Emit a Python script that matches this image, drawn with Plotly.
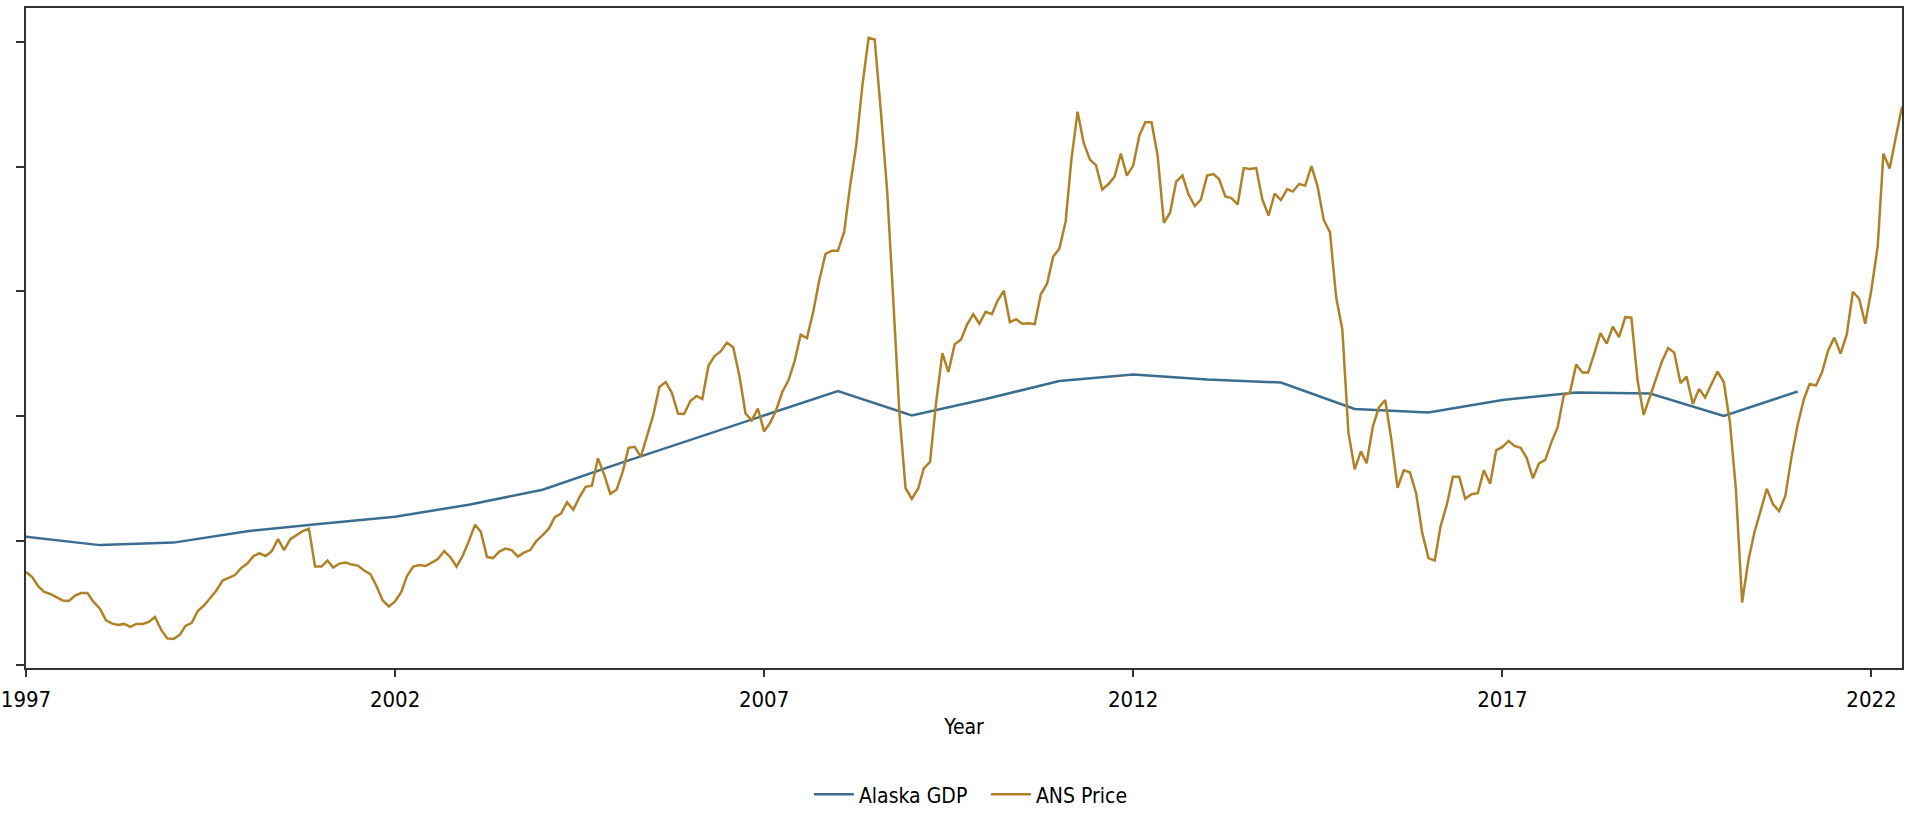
import pandas as pd
import plotly.graph_objects as go

# ---- data (chart units; y-axis carries no labels) ----
gdp_years = list(range(1997, 2022))
gdp_values = [25.8, 24.1, 24.6, 26.9, 28.4, 29.8, 32.2, 35.2, 40.3, 45.2, 50.1, 55.0,
              50.1, 53.4, 57.0, 58.3, 57.3, 56.7, 51.4, 50.7, 53.2, 54.7, 54.5, 50.0, 54.9]

price_start = "1997-01-01"
ans_price = [
    18.7, 17.7, 15.9, 14.7, 14.3, 13.7, 13.0, 12.9, 14.0, 14.5, 14.5, 12.7,   # 1997
    11.4, 9.0, 8.4, 8.1, 8.3, 7.7, 8.3, 8.3, 8.7, 9.7, 7.1, 5.4,             # 1998
    5.3, 6.1, 7.9, 8.5, 10.9, 12.0, 13.4, 15.0, 17.0, 17.5, 18.1, 19.5,      # 1999
    20.4, 21.9, 22.5, 21.9, 22.9, 25.3, 23.1, 25.3, 26.2, 26.9, 27.4, 19.8,  # 2000
    19.8, 21.0, 19.6, 20.4, 20.6, 20.2, 20.0, 19.0, 18.3, 15.9, 13.0, 11.8,  # 2001
    12.8, 14.7, 17.9, 19.8, 20.1, 19.9, 20.6, 21.3, 22.9, 21.7, 19.8, 21.9,  # 2002
    24.9, 28.2, 26.8, 21.7, 21.5, 22.8, 23.4, 23.1, 21.8, 22.6, 23.1, 24.9,  # 2003
    26.1, 27.4, 29.7, 30.4, 32.7, 31.2, 33.7, 35.8, 36.0, 41.5, 38.2, 34.4,  # 2004
    35.2, 38.9, 43.6, 43.8, 41.8, 46.1, 50.1, 55.8, 56.8, 54.7, 50.5, 50.4,  # 2005
    53.0, 54.0, 53.4, 60.1, 62.0, 63.0, 64.7, 63.8, 58.0, 50.5, 49.1, 51.5,  # 2006
    46.9, 48.7, 51.1, 54.8, 57.1, 61.0, 66.3, 65.6, 70.9, 77.2, 82.5, 83.1,  # 2007
    83.1, 86.9, 96.0, 104.3, 116.2, 125.8, 125.5, 110.9, 95.0, 73.3, 50.1, 35.5,  # 2008
    33.4, 35.4, 39.5, 40.8, 52.7, 62.6, 58.8, 64.4, 65.3, 68.3, 70.4, 68.5,  # 2009
    70.9, 70.4, 73.1, 75.1, 68.8, 69.4, 68.5, 68.6, 68.4, 74.4, 76.5, 81.9,  # 2010
    83.6, 89.0, 101.3, 111.0, 104.8, 101.4, 100.3, 95.4, 96.5, 98.0, 102.6, 98.2,  # 2011
    100.2, 106.3, 108.9, 108.9, 102.2, 88.7, 90.7, 97.0, 98.2, 94.4, 92.1, 93.4,  # 2012
    98.2, 98.5, 97.5, 94.0, 93.7, 92.4, 99.7, 99.5, 99.7, 93.4, 90.2, 94.6,  # 2013
    93.3, 95.5, 95.0, 96.5, 96.2, 100.1, 96.1, 89.3, 86.8, 73.9, 67.3, 46.7,  # 2014
    39.3, 42.9, 40.5, 47.9, 51.7, 53.2, 45.4, 35.6, 39.1, 38.7, 34.5, 26.6,  # 2015
    21.5, 21.0, 27.9, 32.2, 37.8, 37.8, 33.4, 34.3, 34.5, 39.1, 36.4, 43.1,  # 2016
    43.8, 45.0, 44.0, 43.6, 41.6, 37.5, 40.5, 41.2, 44.8, 47.7, 54.2, 54.7,  # 2017
    60.3, 58.7, 58.7, 62.6, 66.6, 64.5, 67.9, 65.8, 69.8, 69.7, 57.0, 50.2,  # 2018
    53.8, 57.3, 60.9, 63.6, 62.7, 56.6, 57.9, 52.4, 55.4, 53.7, 56.5, 58.9,  # 2019
    56.8, 48.6, 35.4, 12.6, 20.8, 26.7, 30.9, 35.4, 32.3, 30.9, 34.0, 41.7,  # 2020
    48.3, 53.4, 56.4, 56.1, 58.7, 63.2, 65.7, 62.5, 66.4, 74.9, 73.5, 68.5,  # 2021
    75.4, 84.1, 102.6, 99.6, 105.8, 112.0,                                    # 2022
]

tick_years = [1997, 2002, 2007, 2012, 2017, 2022]
series_names = ["Alaska GDP", "ANS Price"]
colors = ["#3A6E91", "#B08228"]

gdp_dates = pd.to_datetime([f"{y}-01-01" for y in gdp_years])
price_dates = pd.date_range(price_start, periods=len(ans_price), freq="MS")

FONT = ("'Liberation Sans Narrow', 'Arial Narrow', 'DejaVu Sans Condensed', "
        "'Roboto Condensed', 'Liberation Sans', Arial, sans-serif")

fig = go.Figure()
fig.add_trace(go.Scatter(x=gdp_dates, y=gdp_values, mode="lines", name=series_names[0],
                         line=dict(color=colors[0], width=2.5)))
fig.add_trace(go.Scatter(x=price_dates, y=ans_price, mode="lines", name=series_names[1],
                         line=dict(color=colors[1], width=2.5)))

fig.update_layout(
    width=1905, height=816,
    margin=dict(l=22, r=1, t=8, b=141),
    paper_bgcolor="white", plot_bgcolor="white",
    font=dict(family=FONT, size=21, color="#000000"),
    showlegend=True,
    legend=dict(orientation="h", x=0.5117, xanchor="center", y=-0.192, yanchor="middle",
                font=dict(family=FONT, size=21, color="#000000"), itemwidth=40,
                entrywidth=122, entrywidthmode="pixels",
                bgcolor="rgba(0,0,0,0)"),
)
fig.update_xaxes(
    type="date",
    range=[price_dates[0], price_dates[-1]],
    tickvals=pd.to_datetime([f"{y}-01-01" for y in tick_years]),
    ticktext=[str(y) for y in tick_years],
    ticks="outside", ticklen=7, tickwidth=2, tickcolor="#333333",
    ticklabeloverflow="allow", ticklabelstandoff=4,
    showline=True, linecolor="#333333", linewidth=1.5, mirror=True,
    showgrid=False, zeroline=False,
    title=dict(text="Year", standoff=8, font=dict(family=FONT, size=21)),
    tickfont=dict(family=FONT, size=22),
)
fig.update_yaxes(
    range=[-0.54, 131.8],
    tickvals=[0, 25, 50, 75, 100, 125],
    showticklabels=False,
    ticks="outside", ticklen=8, tickwidth=2, tickcolor="#333333",
    showline=True, linecolor="#333333", linewidth=1.5, mirror=True,
    showgrid=False, zeroline=False,
)

fig.write_html("out.html", config={"displayModeBar": False},
               post_script="document.body.style.margin='0';document.body.style.overflow='hidden';")
